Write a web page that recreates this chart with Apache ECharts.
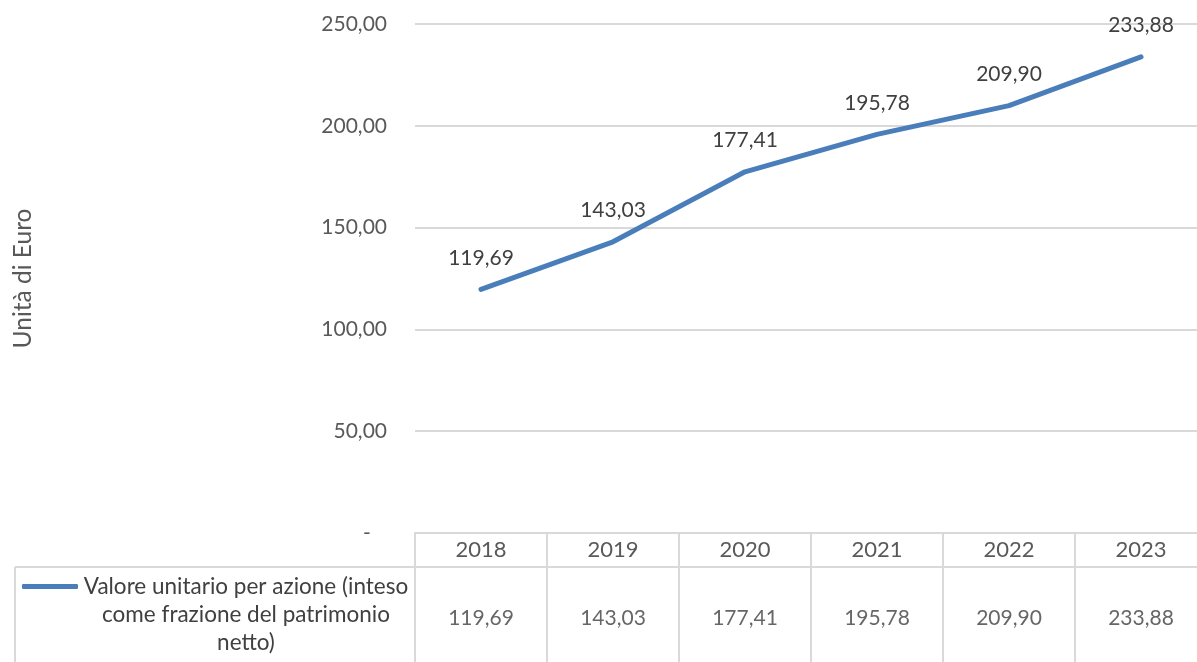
<!DOCTYPE html>
<html>
<head>
<meta charset="utf-8">
<script src="https://cdn.jsdelivr.net/npm/echarts@6/dist/echarts.min.js"></script>
<style>
  html, body { margin: 0; padding: 0; background: #ffffff; }
  #chart { width: 1197px; height: 662px; }
</style>
</head>
<body>
<div id="chart"></div>
<script>
// Anni (categorie) e valore unitario per azione
const years = ['2018', '2019', '2020', '2021', '2022', '2023'];
const unitValues = [119.69, 143.03, 177.41, 195.78, 209.90, 233.88];
const seriesName = 'Valore unitario per azione (inteso come frazione del patrimonio netto)';
const legendLines = ['Valore unitario per azione (inteso', 'come frazione del patrimonio', 'netto)'];
const yAxisTitle = 'Unità di Euro';

const FONT = 'Lato';
const FS = 21;
const LINE_COLOR = '#4a7ebb';
const RULE_COLOR = '#d9d9d9';

// Formato italiano: due decimali con virgola, zero come trattino
function fmt(v) {
  if (v === 0) return '-   ';
  return v.toFixed(2).replace('.', ',');
}

const chart = echarts.init(document.getElementById('chart'), null, { renderer: 'canvas' });

chart.setOption({
  animation: false,
  backgroundColor: '#ffffff',
  textStyle: { fontFamily: FONT },
  grid: [
    // area del grafico a linee (l'ultima colonna esce dal bordo destro)
    { left: 415, width: 792, top: 24, height: 509, containLabel: false, outerBoundsMode: 'none' },
    // tabella dati sotto l'asse
    { left: 415, width: 792, top: 533, height: 136, containLabel: false, outerBoundsMode: 'none' }
  ],
  legend: {
    show: true,
    data: [seriesName],
    left: 17,
    top: 570,
    itemWidth: 56,
    itemHeight: 5,
    icon: 'roundRect',
    itemGap: 0,
    selectedMode: false,
    formatter: function () {
      return legendLines.map(l => '{a|' + l + '}').join('\n');
    },
    textStyle: {
      color: '#404040',
      fontSize: 22.5,
      fontFamily: FONT,
      padding: [56, 0, 0, 0],
      rich: {
        a: { width: 326, align: 'center', fontSize: 22.5, lineHeight: 28, color: '#404040', fontFamily: FONT }
      }
    }
  },
  xAxis: [
    {
      type: 'category',
      gridIndex: 0,
      data: years,
      boundaryGap: true,
      axisLine: { show: true, lineStyle: { color: RULE_COLOR, width: 2 } },
      axisTick: { show: false },
      splitLine: { show: false },
      axisLabel: { color: '#595959', fontSize: 22, margin: 6, fontFamily: FONT }
    },
    {
      type: 'category',
      gridIndex: 1,
      data: years,
      boundaryGap: true,
      axisLine: { show: false },
      axisTick: { show: false },
      axisLabel: { show: false },
      splitLine: { show: true, interval: 0, lineStyle: { color: RULE_COLOR, width: 2 } }
    }
  ],
  yAxis: [
    {
      type: 'value',
      gridIndex: 0,
      min: 0,
      max: 250,
      interval: 50,
      name: yAxisTitle,
      nameLocation: 'middle',
      nameGap: 379,
      nameRotate: 90,
      nameTextStyle: { color: '#595959', fontSize: 24.5, fontFamily: FONT },
      axisLine: { show: false },
      axisTick: { show: false },
      axisLabel: { color: '#595959', fontSize: FS, margin: 28, fontFamily: FONT, formatter: fmt },
      splitLine: { show: true, lineStyle: { color: RULE_COLOR, width: 2 } }
    },
    {
      // righe della tabella: intestazione 0..1, valori 1..4
      type: 'value',
      gridIndex: 1,
      min: 0,
      max: 4,
      inverse: true,
      show: false,
      splitLine: { show: false }
    }
  ],
  graphic: [
    // bordo della colonna della legenda e separatore tra intestazione e valori
    { type: 'line', shape: { x1: 15, y1: 567, x2: 1197, y2: 567 }, style: { stroke: RULE_COLOR, lineWidth: 2 }, silent: true },
    { type: 'line', shape: { x1: 15, y1: 567, x2: 15, y2: 662 }, style: { stroke: RULE_COLOR, lineWidth: 2 }, silent: true }
  ],
  series: [
    {
      name: seriesName,
      type: 'line',
      xAxisIndex: 0,
      yAxisIndex: 0,
      data: unitValues,
      clip: false,
      symbol: 'circle',
      symbolSize: 0,
      showSymbol: true,
      lineStyle: { color: LINE_COLOR, width: 5, cap: 'round', join: 'round' },
      itemStyle: { color: LINE_COLOR },
      labelLayout: { hideOverlap: false, moveOverlap: null },
      label: {
        show: true,
        position: 'top',
        distance: 21,
        color: '#404040',
        fontSize: FS,
        fontFamily: FONT,
        formatter: p => fmt(p.value)
      }
    },
    {
      // celle dei valori nella tabella
      name: 'tabella',
      type: 'scatter',
      xAxisIndex: 1,
      yAxisIndex: 1,
      symbolSize: 0,
      silent: true,
      data: unitValues.map((v, i) => [years[i], 2.5]),
      label: {
        show: true,
        position: 'inside',
        color: '#404040',
        fontSize: FS,
        fontFamily: FONT,
        formatter: p => fmt(unitValues[p.dataIndex])
      }
    }
  ]
});
</script>
</body>
</html>
